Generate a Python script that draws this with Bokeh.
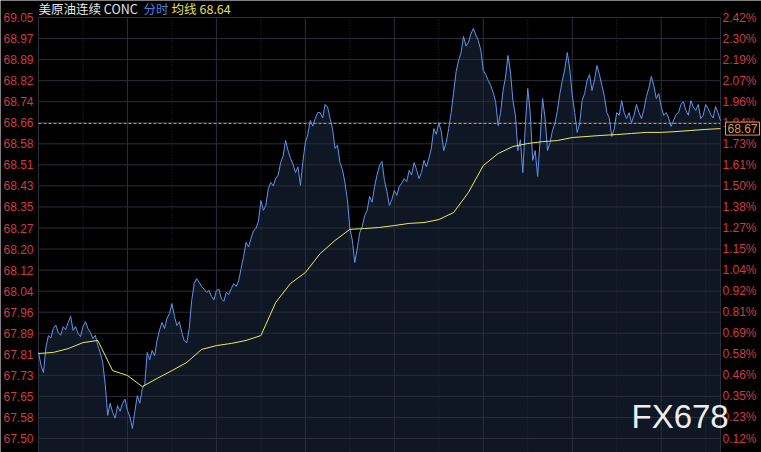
import numpy as np
from bokeh.plotting import figure
from bokeh.models import Range1d, Label
from bokeh.core.properties import value
from bokeh.embed import file_html
from bokeh.resources import INLINE

# ---------------- data ----------------
# last price, one value every 5 minutes of the 23-hour session
price = [67.817, 67.770, 67.743, 67.835, 67.879, 67.870, 67.905, 67.918, 67.890, 67.880,
         67.912, 67.900, 67.927, 67.950, 67.898, 67.912, 67.887, 67.875, 67.912, 67.930,
         67.905, 67.890, 67.868, 67.880, 67.842, 67.815, 67.780, 67.700, 67.585, 67.630,
         67.596, 67.575, 67.621, 67.600, 67.629, 67.645, 67.603, 67.580, 67.537, 67.600,
         67.658, 67.630, 67.684, 67.700, 67.817, 67.790, 67.824, 67.805, 67.861, 67.900,
         67.927, 67.905, 67.942, 67.960, 67.997, 67.950, 67.916, 67.930, 67.890, 67.860,
         67.853, 67.905, 68.008, 68.070, 68.089, 68.075, 68.060, 68.050, 68.038, 68.045,
         68.023, 68.010, 68.045, 68.050, 68.015, 68.005, 68.038, 68.030, 68.052, 68.070,
         68.060, 68.080, 68.126, 68.170, 68.222, 68.205, 68.236, 68.265, 68.273, 68.300,
         68.376, 68.340, 68.358, 68.420, 68.443, 68.430, 68.457, 68.470, 68.516, 68.540,
         68.597, 68.560, 68.531, 68.510, 68.479, 68.500, 68.432, 68.520, 68.590, 68.620,
         68.671, 68.650, 68.678, 68.700, 68.700, 68.680, 68.730, 68.720, 68.678, 68.640,
         68.568, 68.580, 68.516, 68.490, 68.443, 68.380, 68.273, 68.230, 68.148, 68.200,
         68.258, 68.280, 68.321, 68.340, 68.391, 68.370, 68.428, 68.470, 68.505, 68.520,
         68.450, 68.410, 68.358, 68.380, 68.413, 68.395, 68.428, 68.440, 68.457, 68.445,
         68.487, 68.470, 68.516, 68.490, 68.457, 68.480, 68.524, 68.500, 68.531, 68.570,
         68.641, 68.620, 68.663, 68.630, 68.560, 68.590, 68.641, 68.700, 68.774, 68.850,
         68.892, 68.920, 68.980, 68.945, 68.958, 68.990, 69.010, 68.985, 68.965, 68.930,
         68.855, 68.840, 68.818, 68.800, 68.774, 68.740, 68.652, 68.700, 68.781, 68.830,
         68.910, 68.850, 68.744, 68.690, 68.560, 68.600, 68.479, 68.650, 68.789, 68.700,
         68.524, 68.560, 68.465, 68.600, 68.752, 68.680, 68.560, 68.590, 68.634, 68.660,
         68.708, 68.770, 68.818, 68.860, 68.921, 68.860, 68.763, 68.700, 68.627, 68.660,
         68.744, 68.770, 68.818, 68.840, 68.781, 68.820, 68.873, 68.840, 68.800, 68.760,
         68.700, 68.680, 68.612, 68.640, 68.700, 68.690, 68.744, 68.700, 68.678, 68.700,
         68.663, 68.690, 68.730, 68.700, 68.678, 68.710, 68.759, 68.790, 68.833, 68.800,
         68.752, 68.770, 68.722, 68.690, 68.700, 68.680, 68.649, 68.670, 68.693, 68.700,
         68.730, 68.740, 68.708, 68.690, 68.744, 68.720, 68.708, 68.730, 68.678, 68.690,
         68.730, 68.715, 68.693, 68.680, 68.722, 68.700, 68.670]
PRICE_STEP_MIN = 5

# average price line, one value every 30 minutes
avg = [67.813, 67.817, 67.831, 67.853, 67.861, 67.750, 67.732, 67.691, 67.721, 67.750,
       67.780, 67.828, 67.842, 67.850, 67.861, 67.879, 68.001, 68.071, 68.111, 68.181,
       68.229, 68.270, 68.273, 68.277, 68.284, 68.292, 68.295, 68.306, 68.332, 68.406,
       68.505, 68.549, 68.575, 68.586, 68.593, 68.597, 68.608, 68.612, 68.616, 68.619,
       68.623, 68.627, 68.627, 68.630, 68.634, 68.638, 68.641]
AVG_STEP_MIN = 30

SESSION_MIN = 1380
ref_price = 68.66

left_labels = ["69.05", "68.97", "68.89", "68.82", "68.74", "68.66", "68.58", "68.51",
               "68.43", "68.35", "68.27", "68.20", "68.12", "68.04", "67.96", "67.89",
               "67.81", "67.73", "67.65", "67.58", "67.50"]
right_labels = ["2.42%", "2.30%", "2.19%", "2.07%", "1.96%", "1.84%", "1.73%", "1.61%",
                "1.50%", "1.38%", "1.27%", "1.15%", "1.04%", "0.92%", "0.81%", "0.69%",
                "0.58%", "0.46%", "0.35%", "0.23%", "0.12%"]

header_name = "美原油连续 CONC"
header_mode = "分时"
header_avg = "均线"
header_avg_value = "68.64"
last_price_text = "68.67"
watermark = "FX678"

# ---------------- layout ----------------
W, H = 761, 452
FL, FR, FT, FB = 38, 720, 17, 452       # plot area edges in px
tick_top_px, tick_bot_px = 17, 438

y_hi = float(left_labels[0])
y_lo_tick = float(left_labels[-1])
upp = (y_hi - y_lo_tick) / (tick_bot_px - tick_top_px)   # price units per px
y_lo = y_lo_tick - (FB - tick_bot_px) * upp
xpp = SESSION_MIN / (FR - FL)                             # minutes per px

def tx(px):
    return (px - FL) * xpp

def py(px):
    return y_hi - (px - FT) * upp

BG = "#000000"
FILL = "#0f1624"
GRID = "#2a2f39"
RED = "#cf3b45"
BLUE = "#6194ec"
YELLOW = "#eaea62"
ORANGE = "#e39650"

t_price = np.arange(len(price)) * PRICE_STEP_MIN
t_avg = np.arange(len(avg)) * AVG_STEP_MIN

p = figure(width=W, height=H, x_range=Range1d(tx(0), tx(W)), y_range=Range1d(py(H), py(0)),
           x_axis_type=None, y_axis_type=None, output_backend="svg", toolbar_location=None,
           min_border=0, background_fill_color=BG, border_fill_color=BG, outline_line_color=None)

ticks = list(np.linspace(y_hi, y_lo_tick, len(left_labels)))   # top to bottom

# plot area fill under the price line
p.varea(x=t_price, y1=y_lo, y2=price, fill_color=FILL)

# grid
major_x = list(range(0, SESSION_MIN + 1, 180)) + [SESSION_MIN]
minor_x = list(range(90, SESSION_MIN + 1, 180))
p.segment(x0=major_x, x1=major_x, y0=[y_lo] * len(major_x), y1=[y_hi] * len(major_x),
          line_color=GRID, line_width=1)
p.segment(x0=minor_x, x1=minor_x, y0=[y_lo] * len(minor_x), y1=[y_hi] * len(minor_x),
          line_color=GRID, line_width=1, line_dash="1 2")
p.segment(x0=[0] * len(ticks), x1=[SESSION_MIN] * len(ticks), y0=ticks, y1=ticks,
          line_color=GRID, line_width=1)

# tick labels
p.text(x=[tx(FL - 5)] * len(ticks), y=ticks, text=left_labels, text_align="right",
       text_baseline="middle", text_font=value("Liberation Sans"), text_font_size="12px",
       text_color=RED)
p.text(x=[tx(FR + 2)] * len(ticks), y=ticks, text=right_labels, text_align="left",
       text_baseline="middle", text_font=value("Liberation Sans"), text_font_size="12px",
       text_color=RED)

# reference (dashed) price line across the plot area
p.segment(x0=[0], x1=[SESSION_MIN], y0=[ref_price], y1=[ref_price], line_color=ORANGE,
          line_dash="3 2", line_width=1)

p.line(t_price, price, line_color=BLUE, line_width=1)
p.line(t_avg, avg, line_color=YELLOW, line_width=1)

# header
hdr_y = py(8)
p.text(x=[tx(38), tx(143), tx(171), tx(199)], y=[hdr_y] * 4,
       text=[header_name, header_mode, header_avg, header_avg_value],
       text_color=["#e6e6e6", "#4f80e0", "#e3e352", "#e3e352"],
       text_font=value("Noto Sans CJK SC"), text_font_size="12.5px",
       text_baseline="middle", text_align="left")

p.add_layout(Label(x=tx(725), y=avg[-1], text=last_price_text, text_color=ORANGE,
                   text_font="Liberation Sans", text_font_size="12px", text_baseline="middle",
                   text_align="left", background_fill_color=BG, border_line_color=ORANGE,
                   padding=2))

p.add_layout(Label(x=tx(631), y=py(416), text=watermark, text_color="#eeeeee",
                   text_font="Liberation Sans", text_font_size="33px", text_baseline="middle",
                   text_align="left"))

open("out.html", "w").write(file_html(p, INLINE))
